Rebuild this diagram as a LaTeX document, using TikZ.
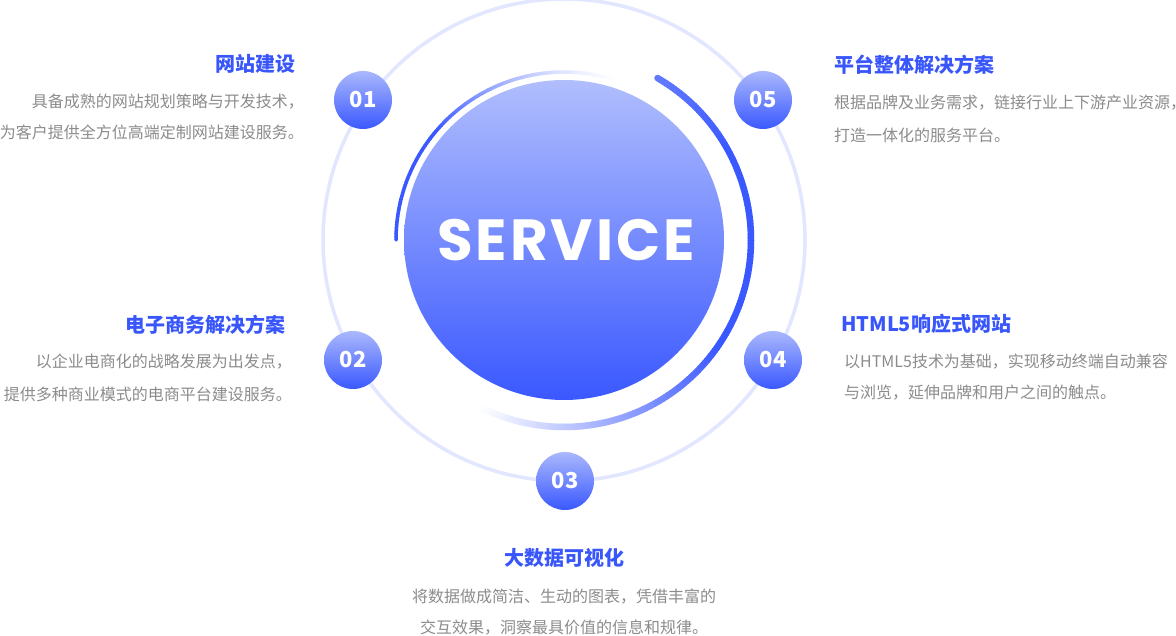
\documentclass[tikz,border=0pt]{standalone}
\usepackage{fontspec}
\newfontfamily\cjk{Noto Sans CJK SC}
\newfontfamily\pop{Poppins}[LetterSpace=5]
\definecolor{arcblue}{RGB}{58,88,255}
\definecolor{ctop}{RGB}{176,190,253}
\definecolor{cbot}{RGB}{58,88,255}
\definecolor{btop}{RGB}{170,184,253}
\definecolor{bbot}{RGB}{58,88,255}
\definecolor{ringc}{RGB}{226,231,255}
\definecolor{titlec}{RGB}{56,86,250}
\definecolor{bodyc}{RGB}{140,140,140}
\begin{document}
\begin{tikzpicture}[x=1pt,y=1pt,
  badge/.style={circle,minimum size=58,inner sep=0,top color=btop,bottom color=bbot,draw=none,
    text=white,font=\cjk\bfseries\fontsize{22}{24}\selectfont},
  ttl/.style={inner sep=0,text=titlec,font=\cjk\bfseries\fontsize{20}{24}\selectfont},
  bdy/.style={inner sep=0,text=bodyc,font=\cjk\fontsize{16}{20}\selectfont}]
\fill[white] (0,0) rectangle (1176,-636);
\useasboundingbox (0,0) rectangle (1176,-636);
\coordinate (O) at (564,-240);
% outer ring
\draw[ringc,line width=3.5] (O) circle (241);
% main circle
\shade[top color=ctop,bottom color=cbot] (O) circle (160);
% right thick arc
\foreach \a in {60,59,...,-116}{
  \pgfmathtruncatemacro{\p}{min(100,80+(60-\a)/30*20,(\a+116)/81*100)}
  \draw[line width=6.5,draw=arcblue!\p!white] (O) ++(\a:187) arc[start angle=\a,end angle=\a-1.3,radius=187];
}
\fill[arcblue!80!white] (O) ++(60:187) circle (3.25);
% left thin arc
\foreach \a in {180,179,...,72}{
  \pgfmathtruncatemacro{\p}{min(100,((\a-70)/70)*sqrt((\a-70)/70)*100)}
  \draw[line width=3.5,draw=arcblue!\p!white] (O) ++(\a:168) arc[start angle=\a,end angle=\a-1.3,radius=168];
}
\fill[arcblue] (O) ++(180:168) circle (1.75);
% center text
\node[inner sep=0,text=white,font=\pop\bfseries\fontsize{58}{60}\selectfont] (svc) at (566,-240) {SERVICE};
% badges
\node[badge] (b1) at (363,-100) {01};
\node[badge] (b5) at (763,-100) {05};
\node[badge] (b2) at (353,-360) {02};
\node[badge] (b4) at (773,-360) {04};
\node[badge] (b3) at (565,-481) {03};
% panel 01
\node[ttl,anchor=base east] (t1) at (296,-71.4) {网站建设};
\node[bdy,anchor=base east] (t1a) at (304,-108) {具备成熟的网站规划策略与开发技术，};
\node[bdy,anchor=base east] (t1b) at (304,-139) {为客户提供全方位高端定制网站建设服务。};
% panel 02
\node[ttl,anchor=base east] (t2) at (286,-332.4) {电子商务解决方案};
\node[bdy,anchor=base east] (t2a) at (292,-368) {以企业电商化的战略发展为出发点，};
\node[bdy,anchor=base east] (t2b) at (292,-401) {提供多种商业模式的电商平台建设服务。};
% panel 05
\node[ttl,anchor=base west] (t5) at (834,-72.4) {平台整体解决方案};
\node[bdy,anchor=base west] (t5a) at (834,-109) {根据品牌及业务需求，链接行业上下游产业资源，};
\node[bdy,anchor=base west] (t5b) at (834,-142) {打造一体化的服务平台。};
% panel 04
\node[ttl,anchor=base west] (t4) at (841,-331.4) {HTML5响应式网站};
\node[bdy,anchor=base west] (t4a) at (844,-368) {以HTML5技术为基础，实现移动终端自动兼容};
\node[bdy,anchor=base west] (t4b) at (844,-399) {与浏览，延伸品牌和用户之间的触点。};
% panel 03
\node[ttl,anchor=base] (t3) at (564,-565.4) {大数据可视化};
\node[bdy,anchor=base] (t3a) at (564,-602) {将数据做成简洁、生动的图表，凭借丰富的};
\node[bdy,anchor=base] (t3b) at (564,-633) {交互效果，洞察最具价值的信息和规律。};
\end{tikzpicture}
\end{document}
